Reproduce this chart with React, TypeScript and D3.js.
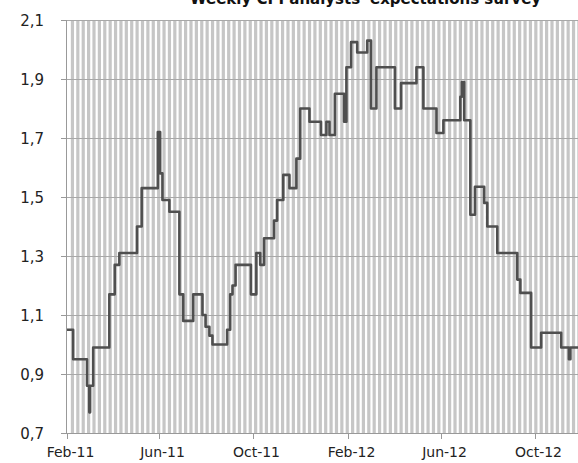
import React, { useEffect, useRef } from 'react';
import * as d3 from 'd3';

// change points of the weekly series (value holds until the next date)
const changeDates = [
  '2011-02-01', '2011-02-09', '2011-02-27', '2011-03-02', '2011-03-03', '2011-03-07',
  '2011-03-28', '2011-04-04', '2011-04-10', '2011-05-03', '2011-05-09', '2011-05-30',
  '2011-06-02', '2011-06-05', '2011-06-14', '2011-06-27', '2011-07-02', '2011-07-15',
  '2011-07-27', '2011-07-31', '2011-08-05', '2011-08-09', '2011-08-28', '2011-09-01',
  '2011-09-04', '2011-09-08', '2011-09-28', '2011-10-05', '2011-10-10', '2011-10-15',
  '2011-10-28', '2011-11-01', '2011-11-09', '2011-11-17', '2011-11-26', '2011-12-01',
  '2011-12-13', '2011-12-28', '2012-01-04', '2012-01-08', '2012-01-15', '2012-01-27',
  '2012-01-30', '2012-02-05', '2012-02-13', '2012-02-26', '2012-03-02', '2012-03-09',
  '2012-04-02', '2012-04-10', '2012-04-30', '2012-05-09', '2012-05-26', '2012-06-04',
  '2012-06-26', '2012-06-28', '2012-07-01', '2012-07-09', '2012-07-15', '2012-07-27',
  '2012-07-31', '2012-08-13', '2012-09-08', '2012-09-12', '2012-09-26', '2012-10-09',
  '2012-11-04', '2012-11-14', '2012-11-16', '2012-12-01',
];
const changeValues = [
  1.05, 0.95, 0.86, 0.77, 0.86, 0.99,
  1.17, 1.27, 1.31, 1.40, 1.53, 1.72,
  1.58, 1.49, 1.45, 1.17, 1.08, 1.17,
  1.10, 1.06, 1.03, 1.00, 1.05, 1.17,
  1.20, 1.27, 1.17, 1.31, 1.27, 1.36,
  1.42, 1.49, 1.575, 1.53, 1.63, 1.80,
  1.755, 1.71, 1.755, 1.71, 1.85, 1.755,
  1.94, 2.025, 1.99, 2.03, 1.80, 1.94,
  1.80, 1.886, 1.94, 1.80, 1.717, 1.76,
  1.84, 1.89, 1.76, 1.44, 1.535, 1.48,
  1.40, 1.31, 1.22, 1.175, 0.99, 1.04,
  0.99, 0.95, 0.99, 0.99,
];

const yTicks = [0.7, 0.9, 1.1, 1.3, 1.5, 1.7, 1.9, 2.1];
const xTickDates = ['2011-02-01', '2011-06-01', '2011-10-01', '2012-02-01', '2012-06-01', '2012-10-01'];
const xTickLabels = ['Feb-11', 'Jun-11', 'Oct-11', 'Feb-12', 'Jun-12', 'Oct-12'];
const title = "Weekly CPI analysts' expectations survey";

function App() {
  const svgRef = useRef<SVGSVGElement>(null);

  useEffect(() => {
    const svg = d3.select(svgRef.current);
    svg.selectAll('*').remove();

    const width = 578;
    const parse = d3.timeParse('%Y-%m-%d');
    const font = '"DejaVu Sans", Verdana, sans-serif';

    const x = d3.scaleTime()
      .domain([parse('2011-02-01')!, parse('2012-10-01')!])
      .range([67, 535]);
    const y = d3.scaleLinear().domain([0.7, 2.1]).range([433, 20]);

    const plotLeft = 67;
    const plotRight = width;
    const comma = d3.formatLocale({ decimal: ',', thousands: '.', grouping: [3], currency: ['', ''] }).format('.1f');

    svg.append('defs').append('clipPath').attr('id', 'plot')
      .append('rect').attr('x', plotLeft).attr('y', 18).attr('width', plotRight - plotLeft).attr('height', 416);

    // weekly vertical stripes
    const weeks = d3.timeWeek.range(x.invert(plotLeft), x.invert(plotRight + 5));
    svg.append('g').attr('clip-path', 'url(#plot)')
      .selectAll('line').data(weeks).enter().append('line')
      .attr('x1', d => x(d) + 1.6).attr('x2', d => x(d) + 1.6)
      .attr('y1', y(2.1)).attr('y2', y(0.7))
      .attr('stroke', '#c6c6c6').attr('stroke-width', 3.2);

    // horizontal gridlines
    svg.append('g').selectAll('line').data(yTicks).enter().append('line')
      .attr('x1', plotLeft).attr('x2', plotRight)
      .attr('y1', d => Math.round(y(d)) + 0.5).attr('y2', d => Math.round(y(d)) + 0.5)
      .attr('stroke', '#a8a8a8').attr('stroke-width', 1);

    // series
    const pts = changeDates.map((d, i) => [parse(d)!, changeValues[i]] as [Date, number]);
    const line = d3.line<[Date, number]>()
      .x(d => x(d[0]))
      .y(d => y(d[1]))
      .curve(d3.curveStepAfter);
    svg.append('path').datum(pts)
      .attr('clip-path', 'url(#plot)')
      .attr('fill', 'none')
      .attr('stroke', '#4f4f4f')
      .attr('stroke-width', 2.6)
      .attr('stroke-linejoin', 'round')
      .attr('d', line);

    // Y axis
    const yAxis = svg.append('g');
    yAxis.append('line')
      .attr('x1', 66.5).attr('x2', 66.5).attr('y1', y(2.1)).attr('y2', y(0.7))
      .attr('stroke', '#999');
    yTicks.forEach(t => {
      const yy = Math.round(y(t)) + 0.5;
      yAxis.append('line').attr('x1', 61).attr('x2', 67).attr('y1', yy).attr('y2', yy).attr('stroke', '#999');
      yAxis.append('text')
        .attr('x', 44).attr('y', yy + 5)
        .attr('text-anchor', 'end')
        .style('font-family', font).style('font-size', '15px').style('fill', '#222')
        .text(comma(t));
    });

    // X axis
    const xAxis = svg.append('g');
    xAxis.append('line')
      .attr('x1', plotLeft).attr('x2', plotRight).attr('y1', 433.5).attr('y2', 433.5)
      .attr('stroke', '#999');
    xTickDates.forEach((d, i) => {
      const xx = Math.round(x(parse(d)!)) + 0.5;
      xAxis.append('line').attr('x1', xx).attr('x2', xx).attr('y1', 433).attr('y2', 439).attr('stroke', '#999');
      xAxis.append('text')
        .attr('x', xx + 3).attr('y', 457)
        .attr('text-anchor', 'middle')
        .style('font-family', font).style('font-size', '14px').style('fill', '#222')
        .text(xTickLabels[i]);
    });

    // title, cropped at the top edge as in the original
    svg.append('text')
      .attr('x', 190).attr('y', 4)
      .style('font-family', font).style('font-size', '15px').style('font-weight', 'bold').style('fill', '#111')
      .text(title);
  }, []);

  return (
    <svg ref={svgRef} width={578} height={463}
      style={{ position: 'absolute', left: 0, top: 0, background: '#fff' }} />
  );
}

export default App;
